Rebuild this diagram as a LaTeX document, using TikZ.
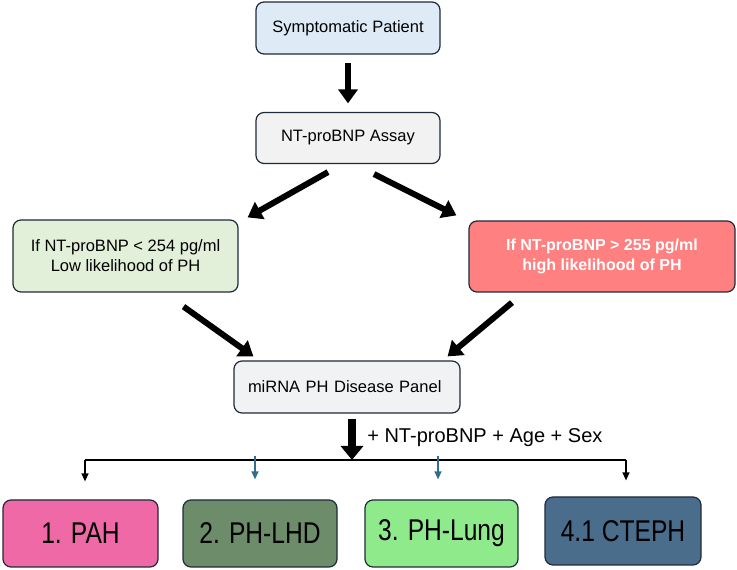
\documentclass[tikz,border=0pt]{standalone}
\usepackage{fontspec}
\setmainfont{Liberation Sans}
\usepackage{xcolor}
\usepackage{graphicx}
\newcommand{\narrow}[1]{\scalebox{0.82}[1]{#1}}
\usetikzlibrary{arrows.meta}
\usetikzlibrary{calc}
\usetikzlibrary{positioning}

\definecolor{edgenavy}{HTML}{1F2A3A}
\definecolor{pblue}{HTML}{DEEBF7}
\definecolor{pgray}{HTML}{F2F2F2}
\definecolor{pgreen}{HTML}{E2F0D9}
\definecolor{pred}{HTML}{FF8080}
\definecolor{ppanel}{HTML}{F1F2F4}
\definecolor{ppah}{HTML}{EE69A6}
\definecolor{plhd}{HTML}{6C8C6A}
\definecolor{plung}{HTML}{8FEA8C}
\definecolor{pcteph}{HTML}{4A6D8C}
\definecolor{tipblue}{HTML}{2F6E8C}

\begin{document}
\begin{tikzpicture}[x=1pt, y=1pt,
    box/.style={draw=edgenavy, line width=1.2pt, rounded corners=8pt,
      align=center, inner sep=0pt, font=\fontsize{16.5}{20}\selectfont},
    classbox/.style={box, font=\fontsize{30}{36}\selectfont},
    fatarrow/.style={line width=6pt, -{Triangle[length=14pt, width=19pt]}},
    thinarrow/.style={line width=1.3pt, -{Triangle[length=8pt, width=7pt]}}]

  \useasboundingbox (0, 0) rectangle (737, 570);

  % stages
  \node [box, fill=pblue, minimum width=184pt, minimum height=52pt]
    (sympt) at (348, 542) {Symptomatic Patient};
  \node [box, fill=pgray, minimum width=184pt, minimum height=51pt]
    (assay) at (348, 432) {NT-proBNP Assay};
  \node [box, fill=pgreen, minimum width=225pt, minimum height=72pt]
    (low) at (125.5, 314) {If NT-proBNP < 254 pg/ml\\Low likelihood of PH};
  \node [box, fill=pred, minimum width=266pt, minimum height=71pt,
    text=white, font=\fontsize{16}{20}\selectfont\bfseries]
    (high) at (602, 313.5) {If NT-proBNP > 255 pg/ml\\high likelihood of PH};
  \node [box, fill=ppanel, minimum width=226pt, minimum height=52pt,
    align=left, text width=198pt]
    (panel) at (347, 183) {miRNA PH Disease Panel};

  % classes
  \node [classbox, fill=ppah, minimum width=155pt, minimum height=67pt]
    (pah) at (80.5, 36.5) {\narrow{1. PAH}};
  \node [classbox, fill=plhd, minimum width=154pt, minimum height=67pt]
    (lhd) at (260, 36.5) {\narrow{2. PH-LHD}};
  \node [classbox, fill=plung, minimum width=153pt, minimum height=67pt]
    (lung) at (441.5, 36.5) {\narrow{3. PH-Lung}};
  \node [classbox, fill=pcteph, minimum width=156pt, minimum height=68pt]
    (cteph) at (623, 39) {\narrow{4.1 CTEPH}};

  \draw [fatarrow] ([yshift=-8pt]sympt.south) -- ([yshift=8.5pt]assay.north);
  \draw [fatarrow] ([xshift=-20pt, yshift=-8pt]assay.south)
    -- ([xshift=9pt, yshift=2pt]low.north east);
  \draw [fatarrow] ([xshift=26pt, yshift=-10pt]assay.south)
    -- ([xshift=-12pt, yshift=5pt]high.north west);
  \draw [fatarrow] ([xshift=58pt, yshift=-14pt]low.south)
    -- ([xshift=20pt, yshift=4pt]panel.north west);
  \draw [fatarrow] ([xshift=-90pt, yshift=-10pt]high.south)
    -- ([xshift=-13pt, yshift=4pt]panel.north east);

  % split to the four classes
  \coordinate (hub) at ([xshift=5pt]panel.south |- 0, 110);
  \draw [line width=8pt, -{Triangle[length=14pt, width=22pt]}]
    ([xshift=5pt, yshift=-5pt]panel.south) -- (hub)
    node [pos=0.45, right=8pt, font=\fontsize{20}{24}\selectfont]
    {+ NT-proBNP + Age + Sex};
  \draw [line width=1.6pt] ([xshift=4.5pt]pah.north |- hub)
    -- ([xshift=3pt]cteph.north |- hub);
  \draw [thinarrow] ([xshift=4.5pt]pah.north |- hub)
    -- ([xshift=4.5pt, yshift=18pt]pah.north);
  \draw [thinarrow, draw=tipblue] ([xshift=-5pt, yshift=4pt]lhd.north |- hub)
    -- ([xshift=-5pt, yshift=20pt]lhd.north);
  \draw [thinarrow, draw=tipblue] ([xshift=-3.5pt, yshift=4pt]lung.north |- hub)
    -- ([xshift=-3.5pt, yshift=20pt]lung.north);
  \draw [thinarrow] ([xshift=3pt]cteph.north |- hub)
    -- ([xshift=3pt, yshift=16pt]cteph.north);

\end{tikzpicture}
\end{document}
